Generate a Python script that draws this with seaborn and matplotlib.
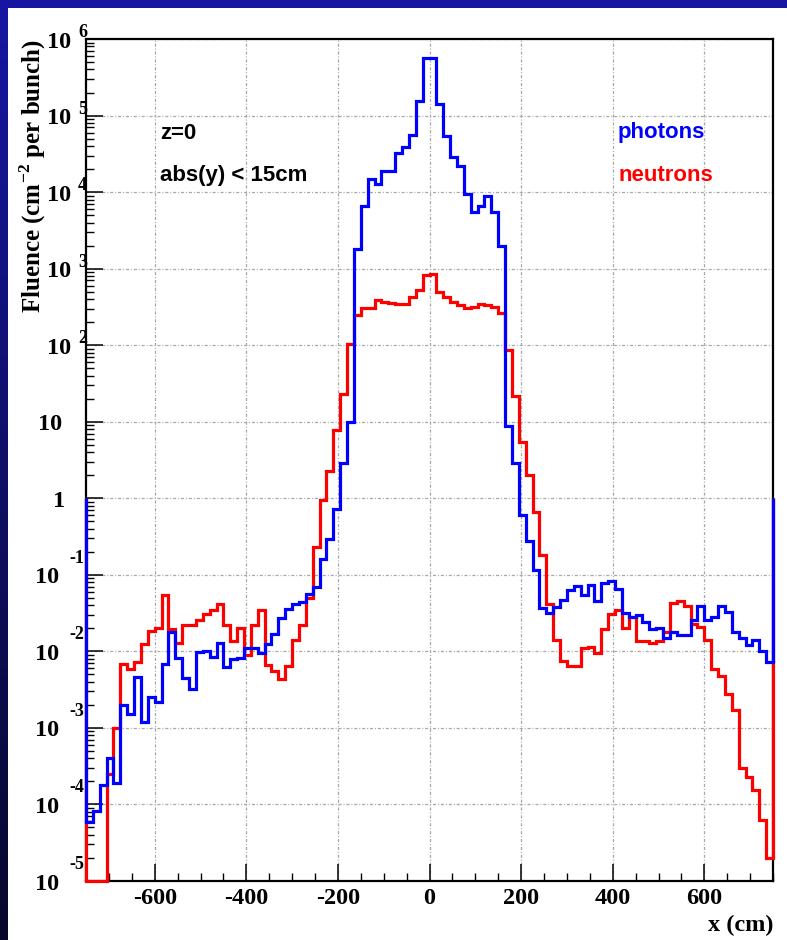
import numpy as np
import matplotlib
matplotlib.use("Agg")
import matplotlib.pyplot as plt
import matplotlib.transforms as mtransforms
from matplotlib.colors import LinearSegmentedColormap
from matplotlib.patches import Rectangle
from matplotlib.ticker import FixedLocator, MultipleLocator, LogLocator, NullFormatter
import seaborn as sns

# ---------------------------------------------------------------- data
X_MIN, X_MAX, BIN_WIDTH = -750, 750, 15          # cm
Y_MIN, Y_MAX = 1e-5, 1e6
EDGE_BASELINE = 1.0                              # histogram end lines close to 1

x_ticks = [-600, -400, -200, 0, 200, 400, 600]
y_exponents = [-5, -4, -3, -2, -1, 0, 1, 2, 3, 4, 5, 6]

# fluence per 15 cm bin, x from -750 to 750 cm (cm^-2 per bunch)
photons = [
    5.9e-5, 8.3e-5, 1.8e-4, 4.0e-4, 1.9e-4, 2.0e-3, 1.5e-3, 4.6e-3, 1.2e-3, 2.5e-3,
    2.2e-3, 6.8e-3, 1.8e-2, 8.1e-3, 4.5e-3, 3.2e-3, 9.8e-3, 1.0e-2, 8.5e-3, 1.3e-2,
    6.3e-3, 7.9e-3, 8.3e-3, 1.1e-2, 1.1e-2, 9.5e-3, 1.26e-2, 1.7e-2, 2.7e-2, 3.6e-2,
    4.1e-2, 4.4e-2, 5.6e-2, 6.9e-2, 0.16, 0.29, 0.72, 2.9, 10.0, 1.8e3,
    6.6e3, 1.5e4, 1.26e4, 1.9e4, 1.9e4, 3.2e4, 3.9e4, 5.5e4, 1.55e5, 5.6e5,
    5.6e5, 1.4e5, 5.4e4, 2.9e4, 2.2e4, 9.5e3, 5.5e3, 6.5e3, 8.9e3, 5.5e3,
    1.95e3, 8.7, 2.85, 0.60, 0.28, 0.117, 3.7e-2, 3.2e-2, 3.8e-2, 4.7e-2,
    6.3e-2, 7.2e-2, 5.4e-2, 7.4e-2, 4.6e-2, 7.9e-2, 8.3e-2, 6.6e-2, 3.2e-2, 2.8e-2,
    3.0e-2, 2.45e-2, 1.95e-2, 2.0e-2, 1.5e-2, 1.8e-2, 1.65e-2, 1.65e-2, 2.6e-2, 3.9e-2,
    2.6e-2, 2.8e-2, 3.9e-2, 3.3e-2, 1.8e-2, 1.5e-2, 1.2e-2, 1.4e-2, 1.0e-2, 7.2e-3,
]

neutrons = [
    0.0, 0.0, 0.0, 2.5e-4, 1.0e-3, 6.8e-3, 5.8e-3, 7.2e-3, 1.23e-2, 1.86e-2,
    2.0e-2, 5.4e-2, 1.95e-2, 1.3e-2, 2.2e-2, 2.2e-2, 2.6e-2, 3.1e-2, 3.5e-2, 4.2e-2,
    2.2e-2, 1.35e-2, 2.0e-2, 8.9e-3, 2.2e-2, 3.5e-2, 6.6e-3, 5.6e-3, 4.3e-3, 6.5e-3,
    1.4e-2, 2.2e-2, 5.0e-2, 0.23, 0.94, 2.3, 7.8, 23.0, 105.0, 245.0,
    305.0, 305.0, 385.0, 365.0, 360.0, 340.0, 340.0, 425.0, 520.0, 830.0,
    850.0, 490.0, 425.0, 365.0, 330.0, 305.0, 315.0, 340.0, 330.0, 315.0,
    265.0, 87.0, 22.0, 5.5, 2.0, 0.66, 0.18, 4.2e-2, 1.4e-2, 7.4e-3,
    6.5e-3, 6.5e-3, 1.1e-2, 1.15e-2, 9.5e-3, 1.95e-2, 3.1e-2, 3.5e-2, 2.0e-2, 2.8e-2,
    1.35e-2, 1.35e-2, 1.3e-2, 1.35e-2, 1.8e-2, 4.3e-2, 4.5e-2, 3.9e-2, 2.3e-2, 2.1e-2,
    1.4e-2, 5.8e-3, 4.7e-3, 2.75e-3, 1.7e-3, 3.0e-4, 2.3e-4, 1.55e-4, 6.2e-5, 2.0e-5,
]

series = [("neutrons", neutrons, "#ff0000"), ("photons", photons, "#0000ff")]

# ---------------------------------------------------------------- style
plt.rcParams["axes.unicode_minus"] = False
plt.rcParams["mathtext.fontset"] = "custom"
plt.rcParams["mathtext.rm"] = "Liberation Serif:bold"
plt.rcParams["mathtext.bf"] = "Liberation Serif:bold"
SERIF = dict(family="Liberation Serif", weight="bold")
SANS = dict(family="Liberation Sans", weight="bold")

W, H = 787, 940
fig = plt.figure(figsize=(W / 100, H / 100), dpi=100)

# slide background: dark blue gradient frame behind a white page
bg = fig.add_axes([0, 0, 1, 1], zorder=-10)
slide = LinearSegmentedColormap.from_list("slide", [(0.09, 0.09, 0.64), (0.03, 0.03, 0.17)])
bg.imshow(np.linspace(0, 1, 256)[:, None], aspect="auto", cmap=slide,
          extent=[0, 1, 0, 1], origin="upper")
bg.add_patch(Rectangle((8 / W, 0), 1, 1 - 8 / H, color="white", lw=0))
bg.set_xlim(0, 1)
bg.set_ylim(0, 1)
bg.axis("off")

left, right, top, bottom = 86, 773, 39, 881
ax = fig.add_axes([left / W, 1 - bottom / H, (right - left) / W, (bottom - top) / H])
ax.set_facecolor("white")
ax.set_yscale("log")

# ---------------------------------------------------------------- histograms
edges = np.arange(X_MIN, X_MAX + BIN_WIDTH, BIN_WIDTH)
centers = edges[:-1] + BIN_WIDTH / 2
for name, values, color in series:
    heights = np.clip(np.asarray(values, dtype=float), Y_MIN, None)
    sns.histplot(x=centers, weights=heights, binwidth=BIN_WIDTH, binrange=(X_MIN, X_MAX),
                 element="step", fill=False, color=color, linewidth=2.3, ax=ax,
                 zorder=3, clip_on=False, solid_joinstyle="miter")
    ax.vlines([X_MIN, X_MAX], [heights[0], heights[-1]], EDGE_BASELINE,
              colors=color, linewidth=2.3, zorder=3, clip_on=False)

ax.set_xlim(X_MIN, X_MAX)
ax.set_ylim(Y_MIN, Y_MAX)

# ---------------------------------------------------------------- axes
for s in ax.spines.values():
    s.set_linewidth(1.6)
    s.set_color("black")
    s.set_zorder(2.5)

ax.xaxis.set_major_locator(FixedLocator(x_ticks))
ax.xaxis.set_minor_locator(MultipleLocator(50))
ax.yaxis.set_major_locator(FixedLocator([10.0 ** e for e in y_exponents]))
ax.yaxis.set_minor_locator(LogLocator(base=10, subs=np.arange(2, 10), numticks=50))
ax.yaxis.set_major_formatter(NullFormatter())
ax.yaxis.set_minor_formatter(NullFormatter())
ax.tick_params(which="major", direction="in", length=12, width=1.1, top=False, right=False)
ax.tick_params(which="minor", direction="in", length=6, width=1.0, top=False, right=False)
ax.tick_params(axis="x", which="major", pad=5)
ax.set_xticklabels([str(t) for t in x_ticks], fontsize=17.5, **SERIF)

ax.grid(True, which="major", linestyle=(0, (2.5, 1.5, 0.8, 1.5)), color="#a8a8a8",
        linewidth=0.9, zorder=0)
ax.set_axisbelow(True)

# y tick labels in the "10 ^ n" style
px = 72 / fig.dpi
ylab_trans = mtransforms.blended_transform_factory(ax.transAxes, ax.transData)
for e in y_exponents:
    y = 10.0 ** e
    if e == 0 or e == 1:
        ax.annotate(str(10 ** e), xy=(0, y), xycoords=ylab_trans,
                    xytext=(-21 * px if e == 0 else -24 * px, -8.5 * px),
                    textcoords="offset points", ha="right", va="baseline",
                    fontsize=17.5, **SERIF, annotation_clip=False)
        continue
    if e > 0:
        shift, rise, gap = 1, 2, 7
    else:
        shift, rise, gap = -2, 12, 10
    ex = ax.annotate(str(e), xy=(0, y), xycoords=ylab_trans,
                     xytext=(shift * px, rise * px), textcoords="offset points",
                     ha="right", va="baseline", fontsize=13, **SERIF,
                     annotation_clip=False)
    ax.annotate("10", xy=(0, y), xycoords=(ex, ylab_trans),
                xytext=(-gap * px, -8.5 * px), textcoords="offset points",
                ha="right", va="baseline", fontsize=17.5, **SERIF,
                annotation_clip=False)

ax.set_xlabel("x (cm)", loc="right", fontsize=17.5, **SERIF)
ax.xaxis.set_label_coords(1.0, -0.040)
ax.set_ylabel(r"Fluence (cm$^{\mathbf{-2}}$ per bunch)", loc="top", fontsize=18, **SERIF)
ax.yaxis.set_label_coords(-0.056, 1.0)

# ---------------------------------------------------------------- annotations
ax.text(0.1077, 0.8812, "z=0", transform=ax.transAxes, fontsize=16, va="baseline", **SANS)
ax.text(0.1077, 0.8314, "abs(y) < 15cm", transform=ax.transAxes, fontsize=16,
        va="baseline", **SANS)
ax.text(0.7744, 0.8824, "photons", transform=ax.transAxes, fontsize=16, va="baseline",
        color="#0000ff", **SANS)
ax.text(0.7744, 0.8314, "neutrons", transform=ax.transAxes, fontsize=16, va="baseline",
        color="#ff0000", **SANS)

fig.savefig("out.png", dpi=100)
